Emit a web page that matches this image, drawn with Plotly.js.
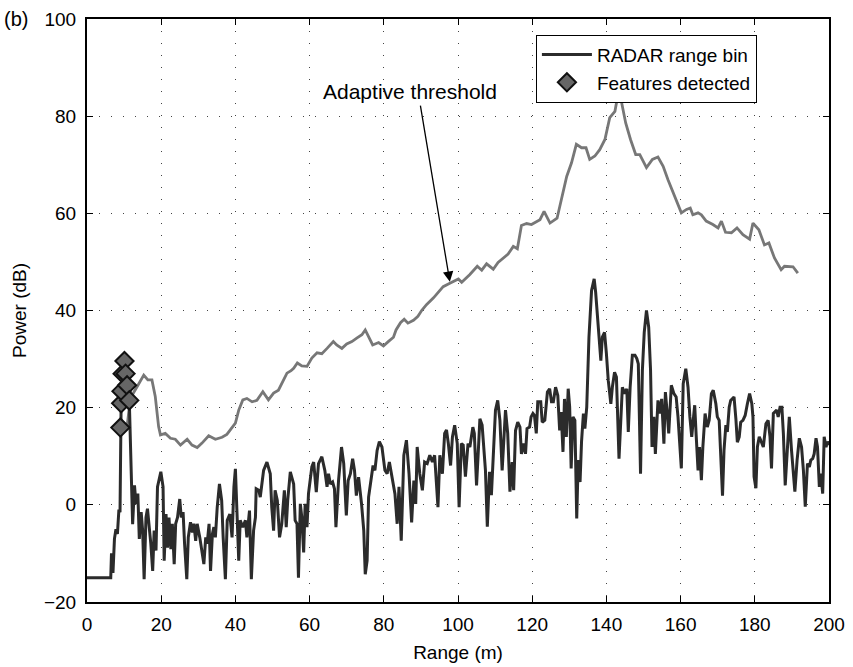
<!DOCTYPE html>
<html>
<head>
<meta charset="utf-8">
<script src="https://cdn.plot.ly/plotly-3.0.1.min.js"></script>
<style>html,body{margin:0;padding:0;background:#fff;}#chart{width:853px;height:667px;}</style>
</head>
<body>
<div id="chart"></div>
<script>
// RADAR range bin (black)
const binRange = [0,6.1,6.4,6.6,7.0,7.4,7.8,8.2,8.6,8.9,9.0,9.2,9.3,9.6,10.1,10.4,10.8,11.4,11.9,12.3,12.8,13.2,13.7,14.1,14.6,15.0,15.4,15.9,16.3,16.8,17.2,17.7,18.1,18.6,19.0,19.9,20.5,20.8,21.3,21.7,22.1,22.6,23.0,23.5,23.9,24.4,25.0,25.4,25.9,26.3,26.9,27.3,27.9,28.4,28.8,29.3,29.7,30.4,31.1,31.5,32.0,32.4,32.9,33.3,33.8,34.2,34.6,35.1,35.7,36.3,36.7,37.3,37.8,38.5,39.1,39.6,40.0,40.4,40.9,41.3,42.0,42.7,43.1,43.8,44.3,44.9,45.4,45.6,46.3,46.7,47.1,47.6,48.5,49.4,49.8,50.3,50.7,51.3,51.9,52.5,53.2,53.7,54.1,54.8,55.7,56.1,56.6,57.0,57.5,57.9,58.4,58.8,59.3,59.7,60.6,61.1,61.8,62.4,63.3,64.1,64.7,65.1,65.6,66.2,66.7,67.1,67.8,68.6,69.2,69.9,70.4,71.0,71.6,72.1,72.6,73.2,74.0,74.6,75.0,75.5,75.9,76.4,77.1,77.6,78.2,78.8,79.5,80.3,80.9,81.5,82.3,83.0,83.6,84.1,84.7,85.4,86.1,86.8,87.5,88.1,88.6,89.0,89.7,90.4,91.0,91.7,92.4,93.1,93.7,94.1,94.6,95.1,95.8,96.4,96.9,97.4,98.0,98.5,99.1,99.8,100.3,100.9,101.4,102.0,102.7,103.2,104.0,104.4,105.0,105.4,105.9,106.5,106.9,107.4,107.9,108.5,109.0,109.6,110.1,110.7,111.3,111.9,112.3,112.8,113.4,114.0,114.6,115.0,115.5,116.1,116.7,117.1,117.7,118.2,118.6,119.3,119.7,120.2,120.6,121.1,121.5,122.3,122.7,123.4,124.1,124.7,125.2,125.7,126.3,126.9,127.4,127.8,128.3,128.7,129.2,129.7,130.1,130.5,131.0,131.5,132.0,132.4,132.9,133.3,133.8,134.2,134.7,135.3,136.0,136.7,137.1,137.8,138.5,138.9,139.5,140.0,140.5,141.2,141.6,142.2,142.7,143.4,143.9,144.3,145.0,145.5,145.9,146.4,147.0,147.7,148.2,148.6,149.2,149.7,150.2,150.8,151.4,151.9,152.3,152.8,153.2,153.9,154.3,154.9,155.5,155.9,156.4,156.8,157.5,158.2,158.8,159.3,160.2,160.7,161.4,162.0,162.5,163.0,163.4,163.8,164.2,164.7,165.1,165.6,166.0,166.6,167.2,167.7,168.3,168.8,169.5,169.9,170.4,170.8,171.3,171.7,172.2,172.6,173.1,173.5,174.4,174.9,175.3,175.8,176.2,176.8,177.4,178.0,178.6,179.2,179.5,179.8,180.3,180.7,181.2,181.8,182.3,183.0,183.6,184.1,184.5,185.0,185.5,185.9,186.3,186.8,187.3,187.7,188.2,188.8,189.3,189.9,190.4,190.8,191.4,192.0,192.6,193.1,193.6,194.2,194.7,195.1,195.6,196.0,196.5,196.9,197.4,197.8,198.3,198.7,199.2,199.6,200];
const binPower = [-15,-15,-15,-10,-14,-7,-5,-6,-1,-1.5,15.9,20.9,23.4,27.0,29.6,27.0,24.6,21.5,3.7,-4,4,0.2,2.3,-7,-1.5,-5.3,-15.3,-2.6,-0.8,-4.6,-8,-13.6,-5.3,-9.4,3.7,6.8,3.7,-11.5,-1.9,-8.8,-2.6,-9.1,-3.9,-12.2,-3.9,-2.6,1.2,-2.6,-1.5,-8,-15.3,-6.7,-3.6,-5.7,-3.9,-7.4,-3.9,-6.7,-10.8,-12.2,-6.7,-8,-3.9,-13.6,-6,-4.6,-6.7,-0.5,4.3,0.9,-6.7,-15.3,-3.2,-1.9,-6.7,3.7,7.4,-0.5,-11.5,-3.2,-4.6,-3.2,-6.7,-1.2,-15.3,-5.3,-2.6,3.3,3,1.6,3.7,7.1,8.8,6.4,-0.5,-5.3,3,0.9,-6.7,-3.9,3,-4.6,0.9,6.8,4.3,-3.2,-3.9,-15,0.2,-2.6,-9.8,0.2,-4.6,2.3,7.8,8.8,2.6,8.5,9.9,7.1,3.7,6.4,4.3,4.7,3.3,-4.6,5,11.9,8.5,-2.2,5,6.4,9.5,7.1,1.9,5.7,0.2,-5.3,-14.3,-11.5,1.6,4.7,8.1,7.1,11.2,13,11.9,7.1,6.4,8.8,5.7,2.3,-3.9,3.7,-7.4,10.2,13.3,6.4,-3.6,5,0.2,11.9,6.4,3,8.8,8.5,10.2,8.8,10.2,4.3,-0.5,10.2,6.4,14.7,15.4,12.6,8.1,14,16.4,12.6,-0.5,12.6,12.3,5.8,12.6,11.9,16,14.7,4,9.9,17.7,16.4,13,7.1,-4.5,6.8,2,11.9,19.5,21.5,17.4,7.1,14,19.5,14.7,2.7,8.8,3,15.3,17,16,10.5,12.6,10.5,15.7,16,18.1,18.8,18.4,14.7,21.2,21.2,17,17.4,23.2,23.9,21.2,21.2,24.2,22.5,15.3,19.1,10.9,21.8,14,23.9,20.1,7.5,18.1,17.4,-2.8,9.2,4.7,13,18.8,15.7,20.1,34.5,44.1,46.5,43.8,35.9,29.7,34.5,35.5,31.1,25.6,20.8,24.2,27.3,26.3,9.5,18.1,24.2,22.9,23.9,15,24.2,30.8,30.8,30.1,29,6.4,27.7,35.5,40,36.6,27.7,11.9,18.1,10.5,21.5,18.8,21.8,12.6,23.2,18.8,14.7,24.6,22.9,22.2,18.1,7.5,24.9,28,24.2,18.1,14,17.4,20.5,14.3,7.1,11.9,5.1,11.9,18.8,16,17.4,22.9,23.6,20.8,18.1,17.4,10.5,1.9,11.2,16.4,15,20.1,21.5,22.2,17.7,12.9,14,17,17.4,18.4,20.8,22.9,20.8,18.1,5.8,3.4,11.9,14,12.9,11.9,16.7,17.4,14,7.5,18.8,19.1,19.5,18.1,20.1,20.1,14.7,4,11.9,18.1,11.2,6.4,2.7,9.2,13.7,11.9,7.1,-0.4,8.5,7.8,9.2,9.5,10.5,13.7,11.9,3.7,6.4,2.3,14,11.9,13,12.3];

// Adaptive threshold (grey)
const thrRange = [10.8,11.7,13.5,15.3,16.4,17.5,18.4,19.3,19.8,21.1,22.5,23.8,25.2,27.0,28.3,29.7,31.0,32.8,34.6,36.4,37.7,39.1,40.0,40.9,42.0,43.1,44.5,45.8,47.4,48.9,50.3,51.6,52.5,53.9,55.0,55.7,56.7,57.9,59.3,60.6,62.0,63.3,64.7,66.4,67.3,68.7,70.0,71.4,72.7,74.1,75.0,76.1,77.0,78.6,79.9,81.2,82.6,83.3,84.5,85.5,86.5,88.0,89.2,90.2,91.5,93.4,96.0,97.8,100.1,101.0,103.2,105.2,106.4,107.7,109.5,110.8,112.4,113.5,114.9,116.0,117.1,118.5,119.8,121.2,122.1,123.2,124.8,126.7,127.9,129.3,130.6,131.9,133.3,134.5,135.5,136.9,138.2,139.6,140.9,142.3,143.3,144.1,145.2,146.5,147.9,149.0,150.8,152.4,153.9,155.3,156.6,158.0,160.2,161.6,162.6,163.3,164.7,165.6,166.9,168.7,170.1,171.0,172.1,173.7,175.2,176.8,178.6,179.5,181.1,182.6,183.8,185.3,187.1,188.0,190.3,191.6];
const thrPower = [16.1,22,24.3,26.7,25.7,25.7,22.3,16.1,14.4,14.7,13.7,13.5,12.3,13.5,12.3,11.8,12.7,14.2,13.5,13.9,14.5,16,16.8,19.5,21.6,21.9,21.2,21.5,23.3,21.6,23,23.6,25,27.1,27.6,28.1,29.2,28.6,28.5,30.2,31.3,31.1,32.2,33.6,32.9,32.2,33.1,33.6,34.3,35,36,34.3,32.9,33.4,32.7,33.6,34.5,36,37.5,38.2,37.4,38,38.8,40,41.2,42.6,44.9,45.6,46.5,45.8,47.4,49.1,48.3,49.6,48.5,49.9,50.8,51.6,53.2,52.7,57.5,57.9,57.7,58.4,58.7,60.4,58,59,62.8,67.6,70.4,74.2,73.5,73.5,71.1,71.8,73.1,75.2,79.7,81,85.2,82.8,78.6,75.2,72.1,72.1,69.4,71.1,71.6,69.7,66.9,64.2,60.1,60.8,61.1,59.7,60.1,59.7,58.4,57.7,57,58.4,56.1,56,57,55.6,54.7,58,56.6,53.5,53.9,50.8,48.4,49.1,49,47.7];

// Features detected
const featRange = [9.0,9.2,9.3,9.6,10.1,10.4,10.8,11.4];
const featPower = [15.9,20.9,23.4,27.0,29.6,27.0,24.6,21.5];

const xTicks = [0,20,40,60,80,100,120,140,160,180,200];
const yTicks = [-20,0,20,40,60,80,100];

const FONT = 'Liberation Sans, Arial, Helvetica, sans-serif';

const traces = [
  {x: thrRange, y: thrPower, mode: 'lines', name: 'Adaptive threshold', showlegend: false,
   line: {color: '#777777', width: 2.8}},
  {x: binRange, y: binPower, mode: 'lines', name: 'RADAR range bin',
   line: {color: '#2b2b2b', width: 3}},
  {x: featRange, y: featPower, mode: 'markers', name: 'Features detected',
   marker: {symbol: 'diamond', size: 14, color: '#666666', line: {color: '#111111', width: 2}}}
];

const axisCommon = {
  showline: true, linecolor: '#000', linewidth: 2, mirror: 'ticks',
  ticks: 'inside', ticklen: 6, tickwidth: 1, tickcolor: '#000',
  showgrid: true, gridcolor: '#444', gridwidth: 1, griddash: '1px,11px',
  zeroline: false, tickfont: {family: FONT, size: 19, color: '#000'}
};

const layout = {
  width: 853, height: 667,
  margin: {l: 87, r: 24, t: 19, b: 65},
  paper_bgcolor: '#fff', plot_bgcolor: '#fff',
  font: {family: FONT, color: '#000'},
  xaxis: Object.assign({}, axisCommon, {
    range: [0, 200], tickvals: xTicks, ticktext: xTicks.map(String),
    ticklabelstandoff: 4,
    title: {text: 'Range (m)', font: {family: FONT, size: 19, color: '#000'}, standoff: 12}
  }),
  yaxis: Object.assign({}, axisCommon, {
    range: [-20, 100], tickvals: yTicks,
    ticklabelstandoff: 5,
    title: {text: 'Power (dB)', font: {family: FONT, size: 19, color: '#000'}, standoff: 12}
  }),
  legend: {
    x: 0.605, y: 0.973, xanchor: 'left', yanchor: 'top',
    bgcolor: '#fff', bordercolor: '#000', borderwidth: 1,
    font: {family: FONT, size: 19, color: '#000'},
    itemwidth: 50, tracegroupgap: 0
  },
  annotations: [
    {xref: 'x', yref: 'y', x: 87, y: 85, text: 'Adaptive threshold', showarrow: false,
     font: {family: FONT, size: 21, color: '#000'}},
    {xref: 'x', yref: 'y', axref: 'x', ayref: 'y', x: 97.8, y: 45.9, ax: 89.8, ay: 82.5,
     text: '', showarrow: true, arrowhead: 2, arrowsize: 1.6, arrowwidth: 1.3, arrowcolor: '#000'},
    {xref: 'paper', yref: 'paper', x: -0.115, y: 1.0, xanchor: 'left', yanchor: 'middle',
     text: '(b)', showarrow: false, font: {family: FONT, size: 20, color: '#000'}}
  ],
  showlegend: true
};

Plotly.newPlot('chart', traces, layout, {displayModeBar: false, staticPlot: true});
</script>
</body>
</html>
